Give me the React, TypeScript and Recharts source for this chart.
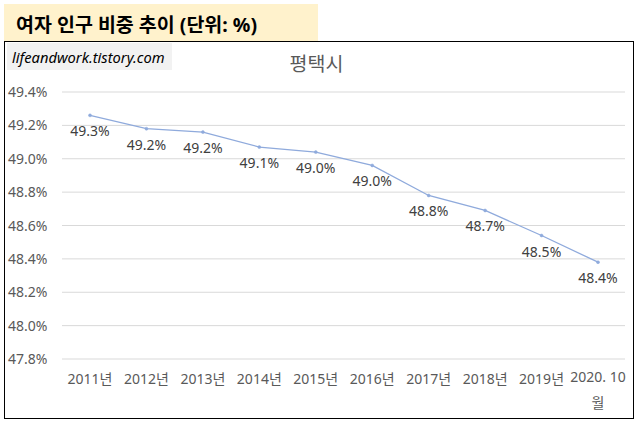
import { LineChart, Line, XAxis, YAxis, CartesianGrid, LabelList } from "recharts";

const years = [
  "2011년",
  "2012년",
  "2013년",
  "2014년",
  "2015년",
  "2016년",
  "2017년",
  "2018년",
  "2019년",
  "2020. 10월",
];
const femaleShare = [49.26, 49.18, 49.16, 49.07, 49.04, 48.96, 48.78, 48.69, 48.54, 48.38];
const yTicks = [47.8, 48.0, 48.2, 48.4, 48.6, 48.8, 49.0, 49.2, 49.4];

const data = years.map((year, i) => ({ year, value: femaleShare[i] }));

const FONT = "'Noto Sans', 'Noto Sans CJK KR', sans-serif";

function XTick({ x, y, payload }: any) {
  const label: string = payload.value;
  // Excel wraps the long last label onto two lines
  const lines = label.includes(". ") ? [label.slice(0, -1), label.slice(-1)] : [label];
  const firstDy = lines.length > 1 ? 23 : 25;
  return (
    <text x={x} y={y} textAnchor="middle" fill="#595959" fontSize={14} fontFamily={FONT}>
      {lines.map((l, i) => (
        <tspan key={i} x={x} dy={i === 0 ? firstDy : 26}>
          {l}
        </tspan>
      ))}
    </text>
  );
}

function YTick({ y, payload }: any) {
  return (
    <text x={8} y={y} dy={5} textAnchor="start" fill="#595959" fontSize={14} fontFamily={FONT}>
      {payload.value.toFixed(1)}%
    </text>
  );
}

function PointLabel({ x, y, value }: any) {
  return (
    <text x={x} y={y} dy={21} textAnchor="middle" fill="#404040" fontSize={14} fontFamily={FONT}>
      {Number(value).toFixed(1)}%
    </text>
  );
}

export default function App() {
  return (
    <div
      style={{
        position: "absolute",
        left: 0,
        top: 0,
        width: 639,
        height: 428,
        background: "#fff",
        fontFamily: FONT,
        overflow: "hidden",
      }}
    >
      <div
        style={{
          position: "absolute",
          left: 4,
          top: 4,
          width: 314,
          height: 38,
          background: "#FFF2CC",
          display: "flex",
          alignItems: "center",
          paddingLeft: 12,
          boxSizing: "border-box",
          fontWeight: 700,
          fontSize: 19.5,
          color: "#000",
        }}
      >
        여자 인구 비중 추이 (단위: %)
      </div>
      <div
        style={{
          position: "absolute",
          left: 4,
          top: 41,
          width: 630,
          height: 378,
          border: "1.5px solid #000",
          boxSizing: "border-box",
        }}
      />
      <div
        style={{
          position: "absolute",
          left: 7,
          top: 43,
          width: 165,
          height: 27,
          background: "#F2F2F2",
          display: "flex",
          alignItems: "center",
          paddingLeft: 5,
          boxSizing: "border-box",
          fontStyle: "italic",
          fontSize: 14.7,
          color: "#000",
        }}
      >
        lifeandwork.tistory.com
      </div>
      <div
        style={{
          position: "absolute",
          left: 0,
          width: 639,
          top: 48,
          textAlign: "center",
          fontSize: 19.5,
          color: "#595959",
          transform: "translateX(-3px)",
        }}
      >
        평택시
      </div>
      <div style={{ position: "absolute", left: 0, top: 0 }}>
        <LineChart
          width={639}
          height={428}
          data={data}
          margin={{ top: 92, right: 14, bottom: 39, left: 8 }}
        >
          <CartesianGrid stroke="#d9d9d9" vertical={false} />
          <XAxis
            dataKey="year"
            height={30}
            axisLine={false}
            tickLine={false}
            tickSize={0}
            tickMargin={0}
            interval={0}
            padding={{ left: 28, right: 27 }}
            tick={<XTick />}
          />
          <YAxis
            type="number"
            domain={[47.8, 49.4]}
            ticks={yTicks}
            width={54}
            axisLine={false}
            tickLine={false}
            tick={<YTick />}
          />
          <Line
            type="linear"
            dataKey="value"
            stroke="#8FAADC"
            strokeWidth={1.3}
            dot={{ r: 1.5, fill: "#8FAADC", stroke: "#8FAADC", strokeWidth: 0.5 }}
            isAnimationActive={false}
          >
            <LabelList dataKey="value" content={<PointLabel />} />
          </Line>
        </LineChart>
      </div>
    </div>
  );
}
